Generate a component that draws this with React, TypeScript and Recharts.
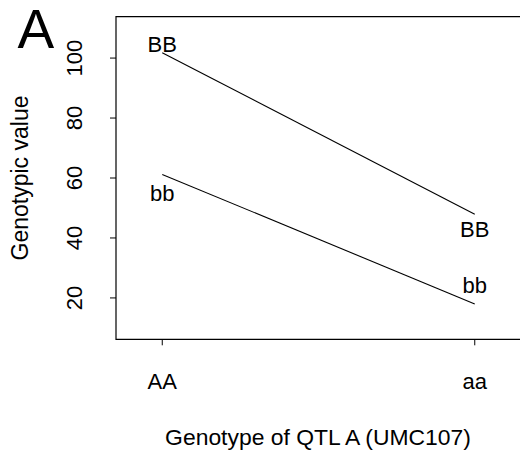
import React from 'react';
import { LineChart, Line, XAxis, YAxis, ReferenceArea, ReferenceDot } from 'recharts';

// genotype classes at QTL A and their positions on the x scale
const groups = ['AA', 'aa'];
const groupPos = [1, 2];

// genotypic values for each QTL B class
const BBValues = [101.8, 47.9];
const bbValues = [61.2, 18.0];

// where the R text() labels were put (in data units)
const BBLabelY = [104.5, 42.9];
const bbLabelY = [55.0, 24.3];

const yTicks = [20, 40, 60, 80, 100];
const xDomain = [0.852, 2.148];
const yDomain = [6.2, 113.8];

const FONT = '"Liberation Sans", Arial, Helvetica, sans-serif';

const data = groups.map((g, i) => ({ x: groupPos[i], name: g, BB: BBValues[i], bb: bbValues[i] }));

const XTick = (props: any) => {
  const { x, y, payload } = props;
  const label = groups[groupPos.indexOf(payload.value)];
  return (
    <text x={x} y={y + 41.7} textAnchor="middle" fontSize={22} fontFamily={FONT} fill="#000">
      {label}
    </text>
  );
};

const YTick = (props: any) => {
  const { x, y, payload } = props;
  return (
    <text
      transform={`translate(${x - 26}, ${y}) rotate(-90)`}
      textAnchor="middle"
      fontSize={22}
      fontFamily={FONT}
      fill="#000"
    >
      {payload.value}
    </text>
  );
};

const labelStyle = { position: 'center' as const, fontSize: 22, fill: '#000', fontFamily: FONT };

export default function App() {
  return (
    <div style={{ position: 'relative', width: 520, height: 456, overflow: 'hidden', background: '#fff' }}>
      <style>{'body{margin:0}'}</style>
      <LineChart
        width={524}
        height={456}
        data={data}
        margin={{ top: 16.7, right: 3, left: 56, bottom: 66.7 }}
      >
        <XAxis
          dataKey="x"
          type="number"
          domain={xDomain}
          ticks={groupPos}
          allowDataOverflow
          axisLine={false}
          tickLine={{ stroke: '#000' }}
          tickSize={6}
          height={50}
          tick={<XTick />}
          interval={0}
        />
        <YAxis
          type="number"
          domain={yDomain}
          ticks={yTicks}
          allowDataOverflow
          axisLine={false}
          tickLine={{ stroke: '#000' }}
          tickSize={6}
          width={60}
          tick={<YTick />}
          interval={0}
        />
        <ReferenceArea
          x1={xDomain[0]}
          x2={xDomain[1]}
          y1={yDomain[0]}
          y2={yDomain[1]}
          fill="none"
          fillOpacity={0}
          stroke="#000"
          strokeWidth={1.2}
          ifOverflow="visible"
        />
        <Line dataKey="BB" stroke="#000" strokeWidth={1.1} dot={false} isAnimationActive={false} />
        <Line dataKey="bb" stroke="#000" strokeWidth={1.1} dot={false} isAnimationActive={false} />
        {groupPos.map((p, i) => (
          <ReferenceDot key={'BB' + i} x={p} y={BBLabelY[i]} r={0} fill="none" stroke="none" label={{ value: 'BB', ...labelStyle }} />
        ))}
        {groupPos.map((p, i) => (
          <ReferenceDot key={'bb' + i} x={p} y={bbLabelY[i]} r={0} fill="none" stroke="none" label={{ value: 'bb', ...labelStyle }} />
        ))}
      </LineChart>
      <svg width={520} height={456} style={{ position: 'absolute', left: 0, top: 0, pointerEvents: 'none' }}>
        <text x={17.5} y={48} fontSize={55} fontFamily={FONT} fill="#000">A</text>
        <text transform="translate(28, 178) rotate(-90)" textAnchor="middle" fontSize={23} fontFamily={FONT} fill="#000">
          Genotypic value
        </text>
        <text x={318} y={445} textAnchor="middle" fontSize={22.9} fontFamily={FONT} fill="#000">
          Genotype of QTL A (UMC107)
        </text>
      </svg>
    </div>
  );
}
